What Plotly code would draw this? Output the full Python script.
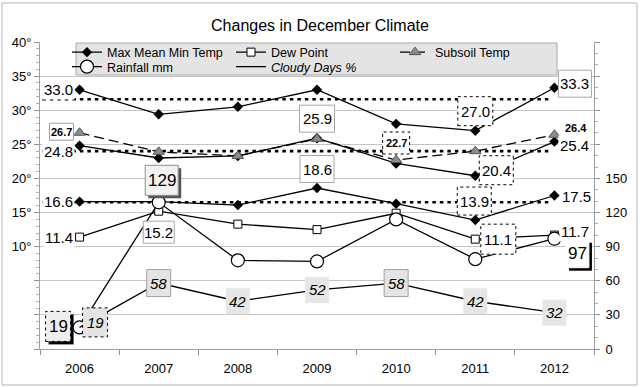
import plotly.graph_objects as go

# ---------------- data ----------------
years = ['2006', '2007', '2008', '2009', '2010', '2011', '2012']
max_temp = [33.0, 29.4, 30.5, 33.0, 28.0, 27.0, 33.3]
mean_temp = [24.8, 23.0, 23.3, 25.9, 22.2, 20.4, 25.4]
min_temp = [16.6, 16.6, 16.1, 18.6, 16.3, 13.9, 17.5]
dew_point = [11.4, 15.2, 13.3, 12.5, 14.9, 11.1, 11.7]
subsoil = [26.7, 23.9, 23.3, 25.8, 22.7, 24.0, 26.4]
rainfall = [19, 129, 78, 77, 114, 79, 97]
cloudy = [19, 58, 42, 52, 58, 42, 32]
avg_lines = [31.6, 24.0, 16.5]
left_ticks = [-5, 0, 5, 10, 15, 20, 25, 30, 35, 40]
left_labels = ['', '', '', '10°', '15°', '20°', '25°', '30°', '35°', '40°']
right_ticks = [0, 30, 60, 90, 120, 150, 180, 210, 240, 270]
right_labels = ['0', '30', '60', '90', '120', '150', '', '', '', '']

FONT = 'Liberation Sans, Arial, sans-serif'

series = {
    'max': (max_temp, 'y', '{:.1f}'),
    'mean': (mean_temp, 'y', '{:.1f}'),
    'min': (min_temp, 'y', '{:.1f}'),
    'dew': (dew_point, 'y', '{:.1f}'),
    'sub': (subsoil, 'y', '{:.1f}'),
    'rain': (rainfall, 'y2', '{:d}'),
    'cloud': (cloudy, 'y2', '{:d}'),
}

fig = go.Figure()

line_w = 1.3
fig.add_trace(go.Scatter(x=years, y=max_temp, name='Max Mean Min Temp', mode='lines+markers',
                         line=dict(color='black', width=line_w),
                         marker=dict(symbol='diamond', size=8, color='black'), legend='legend'))
fig.add_trace(go.Scatter(x=years, y=mean_temp, mode='lines+markers', showlegend=False,
                         line=dict(color='black', width=line_w),
                         marker=dict(symbol='diamond', size=8, color='black')))
fig.add_trace(go.Scatter(x=years, y=min_temp, mode='lines+markers', showlegend=False,
                         line=dict(color='black', width=line_w),
                         marker=dict(symbol='diamond', size=8, color='black')))
fig.add_trace(go.Scatter(x=years, y=dew_point, name='Dew Point', mode='lines+markers',
                         line=dict(color='black', width=line_w),
                         marker=dict(symbol='square', size=8, color='white',
                                     line=dict(color='black', width=1)), legend='legend'))
fig.add_trace(go.Scatter(x=years, y=subsoil, name='Subsoil Temp', mode='lines+markers',
                         line=dict(color='black', width=line_w, dash='10px,5px'),
                         marker=dict(symbol='triangle-up', size=10, color='#8c8c8c',
                                     line=dict(color='#555555', width=1)), legend='legend'))
fig.add_trace(go.Scatter(x=years, y=rainfall, name='Rainfall mm', mode='lines+markers', yaxis='y2',
                         line=dict(color='black', width=line_w),
                         marker=dict(symbol='circle', size=13, color='white',
                                     line=dict(color='black', width=1.2)), legend='legend2'))
fig.add_trace(go.Scatter(x=years, y=cloudy, name='<i>Cloudy Days %</i>', mode='lines', yaxis='y2',
                         line=dict(color='black', width=line_w), legend='legend2'))

shapes = []
annotations = []

# average (dotted) lines
for v in avg_lines:
    shapes.append(dict(type='line', xref='x', yref='y', x0=-0.47, x1=5.96, y0=v, y1=v,
                       line=dict(color='black', width=2.6, dash='3.5px,4px'), layer='between'))

# label specs: key, idx, dx, dy (screen px, down positive), style, w, h
labels = [
    ('max', 0, -21.5, 0, 'plain', 0, 0),
    ('mean', 0, -21, 6, 'plain', 0, 0),
    ('min', 0, -21, 0, 'plain', 0, 0),
    ('dew', 0, -21, 0, 'plain', 0, 0),
    ('sub', 0, -18, -1, 'smallbox', 24, 17),
    ('rain', 1, 3, -22, 'bigshadow', 33, 30),
    ('dew', 1, 0, 21, 'box', 31, 22),
    ('mean', 3, 0, -19.5, 'box', 35, 27),
    ('min', 3, 0, -19, 'box', 34, 27),
    ('sub', 4, 0, -17, 'smalldot', 27, 22),
    ('max', 5, 0, -19.5, 'dot', 35, 29),
    ('mean', 5, 21, -5.5, 'dot', 34, 29),
    ('min', 5, -1, -19, 'dot', 34, 28),
    ('dew', 5, 23, 0, 'dot', 35, 30),
    ('max', 6, 20.5, -4, 'box', 33, 27),
    ('sub', 6, 22, -6.5, 'smallplain', 0, 0),
    ('mean', 6, 20, 4, 'plain', 0, 0),
    ('min', 6, 22, 1, 'plain', 0, 0),
    ('dew', 6, 21, -4, 'plain', 0, 0),
    ('rain', 6, 23, 15, 'blackshadow', 23, 28),
    ('rain', 0, -21.5, -1, 'dotshadow', 25, 30),
    ('cloud', 0, 15.5, -5, 'cloudydot', 25, 29),
    ('cloud', 1, 0, 0, 'cloudyborder', 24, 27),
    ('cloud', 2, 0, 0, 'cloudy', 24, 26),
    ('cloud', 3, 0, 0, 'cloudy', 24, 26),
    ('cloud', 4, 0, 0, 'cloudyborder', 24, 27),
    ('cloud', 5, 0, 0, 'cloudy', 24, 26),
    ('cloud', 6, 0, 0, 'cloudy', 24, 26),
]

styles = {
    'plain': dict(size=15, bold=False, italic=False, bg='white', fill=None),
    'smallplain': dict(size=11, bold=True, italic=False, bg=None, fill=None),
    'smallbox': dict(size=11, bold=True, italic=False, bg=None, fill='white', lc='#a0a0a0', dash='solid'),
    'smalldot': dict(size=11, bold=True, italic=False, bg=None, fill='white', lc='black', dash='dot'),
    'box': dict(size=15, bold=False, italic=False, bg=None, fill='white', lc='#a6a6a6', dash='solid'),
    'dot': dict(size=15, bold=False, italic=False, bg=None, fill='white', lc='black', dash='dot'),
    'bigshadow': dict(size=17, bold=False, italic=False, bg=None, fill='#f2f2f2', lc='#909090',
                      dash='solid', shadow='#555555'),
    'blackshadow': dict(size=17, bold=False, italic=False, bg=None, fill='white', lc='white',
                        dash='solid', shadow='black'),
    'dotshadow': dict(size=17, bold=False, italic=False, bg=None, fill='#eeeeee', lc='black',
                      dash='dot', shadow='black'),
    'cloudydot': dict(size=15, bold=False, italic=True, bg=None, fill='#e4e4e4', lc='black', dash='dot'),
    'cloudyborder': dict(size=15, bold=False, italic=True, bg=None, fill='#e4e4e4', lc='#a0a0a0',
                         dash='solid'),
    'cloudy': dict(size=15, bold=False, italic=True, bg=None, fill='#e6e6e6', lc=None),
}

for key, i, dx, dy, st, w, h in labels:
    vals, yref, fmt = series[key]
    v = vals[i]
    s = styles[st]
    if s.get('fill'):
        if s.get('shadow'):
            shapes.append(dict(type='rect', xref='x', yref=yref, xsizemode='pixel', ysizemode='pixel',
                               xanchor=i, yanchor=v, x0=dx - w / 2 + 3, x1=dx + w / 2 + 3,
                               y0=-dy - h / 2 - 3, y1=-dy + h / 2 - 3,
                               fillcolor=s['shadow'], line=dict(width=0), layer='above'))
        ln = dict(width=0) if not s.get('lc') else dict(color=s['lc'], width=1, dash=s['dash'])
        shapes.append(dict(type='rect', xref='x', yref=yref, xsizemode='pixel', ysizemode='pixel',
                           xanchor=i, yanchor=v, x0=dx - w / 2, x1=dx + w / 2,
                           y0=-dy - h / 2, y1=-dy + h / 2,
                           fillcolor=s['fill'], line=ln, layer='above'))
    txt = fmt.format(v)
    if s['bold']:
        txt = '<b>' + txt + '</b>'
    if s['italic']:
        txt = '<i>' + txt + '</i>'
    ann = dict(x=i, y=v, xref='x', yref=yref, text=txt, showarrow=False,
               xanchor='center', yanchor='middle',
               xshift=dx, yshift=-dy, font=dict(family=FONT, size=s['size'], color='black'))
    if s['bg']:
        ann['bgcolor'] = s['bg']
        ann['borderpad'] = 1
    annotations.append(ann)

# legend box and outer border (paper coords; plot area 40..594 x 42..349 px)
def px(xp):
    return (xp - 40) / 554.0


def py(yp):
    return (349 - yp) / 307.0


shapes.append(dict(type='rect', xref='paper', yref='paper', x0=px(76), x1=px(557), y0=py(75), y1=py(43),
                   fillcolor='#e4e4e4', line=dict(color='#a8a8a8', width=1), layer='above'))
shapes.append(dict(type='rect', xref='paper', yref='paper', x0=px(2), x1=px(637), y0=py(385), y1=py(3),
                   fillcolor='rgba(0,0,0,0)', line=dict(color='#b4b4b4', width=1), layer='above'))

leg_common = dict(orientation='h', xanchor='left', yanchor='middle', bgcolor='rgba(0,0,0,0)',
                  entrywidth=119, entrywidthmode='pixels', font=dict(family=FONT, size=12.5, color='black'),
                  traceorder='normal', borderwidth=0)

fig.update_layout(
    width=640, height=387,
    margin=dict(l=40, r=46, t=42, b=38),
    paper_bgcolor='white', plot_bgcolor='white',
    font=dict(family=FONT, size=13, color='black'),
    title=dict(text='Changes in December Climate', x=0.5, xref='container', xanchor='center',
               y=1 - 25 / 387, yanchor='middle', font=dict(family=FONT, size=16, color='black')),
    xaxis=dict(type='category', categoryorder='array', categoryarray=years, range=[-0.5, 6.5],
               tickson='boundaries', ticks='outside', ticklen=5, tickcolor='#909090',
               showline=True, linecolor='#a0a0a0', showgrid=False, zeroline=False,
               tickfont=dict(family=FONT, size=13, color='black'), ticklabelstandoff=7),
    yaxis=dict(range=[-5, 40], tickmode='array', tickvals=left_ticks, ticktext=left_labels,
               ticks='outside', ticklen=5, tickcolor='#909090', showline=True, linecolor='#a0a0a0',
               showgrid=True, gridcolor='#c4c4c4', gridwidth=1, zeroline=False,
               minor=dict(dtick=1, tick0=0, ticks='outside', ticklen=3, tickcolor='#b0b0b0', showgrid=False),
               tickfont=dict(family=FONT, size=13, color='black')),
    yaxis2=dict(range=[0, 270], overlaying='y', side='right', tickmode='array', tickvals=right_ticks,
                ticktext=right_labels, ticks='outside', ticklen=5, tickcolor='#909090', showline=True,
                linecolor='#a0a0a0', showgrid=False, zeroline=False,
                minor=dict(dtick=10, tick0=0, ticks='outside', ticklen=3, tickcolor='#b0b0b0', showgrid=False),
                tickfont=dict(family=FONT, size=13, color='black'), ticklabelstandoff=3),
    legend=dict(x=px(67), y=py(52.5), **leg_common),
    legend2=dict(x=px(67), y=py(67), **leg_common),
    shapes=shapes,
    annotations=annotations,
    showlegend=True,
)

fig.write_html('out.html', config={'displayModeBar': False},
               post_script="document.body.style.margin='0px';")
